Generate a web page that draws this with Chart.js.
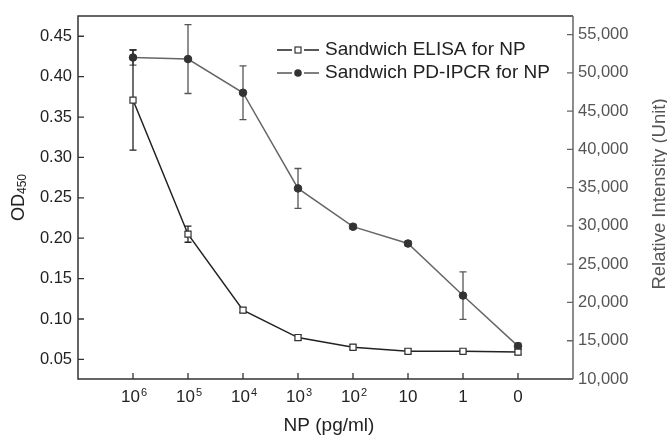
<!DOCTYPE html>
<html>
<head>
<meta charset="utf-8">
<script src="https://cdn.jsdelivr.net/npm/chart.js@4.4.1/dist/chart.umd.min.js"></script>
<style>
  html, body { margin: 0; padding: 0; background: #fff; }
  #wrap { width: 667px; height: 438px; }
</style>
</head>
<body>
<div id="wrap"><canvas id="myChart" width="667" height="438"></canvas></div>
<script>
// Datos del gráfico
var categorias = ['10^6', '10^5', '10^4', '10^3', '10^2', '10', '1', '0'];
var elisaOD = [0.371, 0.205, 0.111, 0.077, 0.065, 0.060, 0.060, 0.059];
var elisaErr = [0.062, 0.010, 0.003, 0.003, 0.003, 0.003, 0.002, 0.003];
var ipcrInt = [52000, 51800, 47400, 34900, 29900, 27700, 20900, 14300];
var ipcrErr = [1000, 4500, 3500, 2600, 300, 300, 3100, 400];
var ticksOD = [0.05, 0.10, 0.15, 0.20, 0.25, 0.30, 0.35, 0.40, 0.45];
var ticksInt = [10000, 15000, 20000, 25000, 30000, 35000, 40000, 45000, 50000, 55000];
var nombres = ['Sandwich ELISA for NP', 'Sandwich PD-IPCR for NP'];

var fuente = 'Liberation Sans, Arial, Helvetica, sans-serif';
Chart.defaults.font.family = fuente;

function puntos(valores) {
  return valores.map(function (v, i) { return { x: i + 1, y: v }; });
}

/* Plugin para barras de error, marco, ticks hacia dentro, etiquetas, títulos y leyenda */
var extras = {
  id: 'extras',
  beforeDatasetsDraw: function (chart) {
    var ctx = chart.ctx;
    var sx = chart.scales.x;
    var series = [
      { vals: ipcrInt, errs: ipcrErr, eje: chart.scales.y2, color: '#555' },
      { vals: elisaOD, errs: elisaErr, eje: chart.scales.y, color: '#222' }
    ];
    ctx.save();
    series.forEach(function (s) {
      ctx.strokeStyle = s.color;
      ctx.lineWidth = 1.3;
      s.vals.forEach(function (v, i) {
        var px = sx.getPixelForValue(i + 1);
        var top = s.eje.getPixelForValue(v + s.errs[i]);
        var bot = s.eje.getPixelForValue(v - s.errs[i]);
        ctx.beginPath();
        ctx.moveTo(px, top); ctx.lineTo(px, bot);
        ctx.moveTo(px - 3.5, top); ctx.lineTo(px + 3.5, top);
        ctx.moveTo(px - 3.5, bot); ctx.lineTo(px + 3.5, bot);
        ctx.stroke();
      });
    });
    ctx.restore();
  },
  afterDraw: function (chart) {
    var ctx = chart.ctx;
    var a = chart.chartArea;
    var sx = chart.scales.x, sy = chart.scales.y, sy2 = chart.scales.y2;
    ctx.save();
    // marco
    ctx.lineWidth = 1.5;
    ctx.strokeStyle = '#333';
    ctx.beginPath();
    ctx.moveTo(a.right, a.top); ctx.lineTo(a.left, a.top);
    ctx.lineTo(a.left, a.bottom); ctx.lineTo(a.right, a.bottom);
    ctx.stroke();
    ctx.strokeStyle = '#666';
    ctx.beginPath();
    ctx.moveTo(a.right, a.top); ctx.lineTo(a.right, a.bottom);
    ctx.stroke();
    // ticks
    ctx.lineWidth = 1.3;
    ctx.strokeStyle = '#333';
    ctx.beginPath();
    sy.ticks.forEach(function (t) {
      var p = sy.getPixelForValue(t.value);
      ctx.moveTo(a.left, p); ctx.lineTo(a.left + 6, p);
    });
    sx.ticks.forEach(function (t) {
      var p = sx.getPixelForValue(t.value);
      ctx.moveTo(p, a.bottom); ctx.lineTo(p, a.bottom - 6);
    });
    ctx.stroke();
    ctx.strokeStyle = '#666';
    ctx.beginPath();
    sy2.ticks.forEach(function (t) {
      var p = sy2.getPixelForValue(t.value);
      ctx.moveTo(a.right, p); ctx.lineTo(a.right - 6, p);
    });
    ctx.stroke();

    // etiquetas del eje x con exponente
    ctx.fillStyle = '#222';
    ctx.textBaseline = 'alphabetic';
    ctx.textAlign = 'left';
    sx.ticks.forEach(function (t) {
      var p = sx.getPixelForValue(t.value);
      var partes = categorias[t.value - 1].split('^');
      ctx.font = '17px ' + fuente;
      var wb = ctx.measureText(partes[0]).width;
      var we = 0;
      if (partes[1]) {
        ctx.font = '11px ' + fuente;
        we = ctx.measureText(partes[1]).width + 1;
      }
      var x0 = p - (wb + we) / 2 + (partes[1] ? 1 : 0);
      ctx.font = '17px ' + fuente;
      ctx.fillText(partes[0], x0, 402);
      if (partes[1]) {
        ctx.font = '11px ' + fuente;
        ctx.fillText(partes[1], x0 + wb + 1, 396);
      }
    });

    // título eje izquierdo: OD con subíndice 450
    ctx.fillStyle = '#222';
    ctx.translate(24, 221);
    ctx.rotate(-Math.PI / 2);
    ctx.textBaseline = 'alphabetic';
    ctx.textAlign = 'left';
    ctx.font = '18px ' + fuente;
    ctx.fillText('OD', 0, 0);
    var w = ctx.measureText('OD').width;
    ctx.font = '12px ' + fuente;
    ctx.fillText('450', w, 2);
    ctx.setTransform(1, 0, 0, 1, 0, 0);

    // título eje derecho
    ctx.fillStyle = '#555';
    ctx.translate(660, 194);
    ctx.rotate(-Math.PI / 2);
    ctx.textAlign = 'center';
    ctx.textBaseline = 'middle';
    ctx.font = '18.5px ' + fuente;
    ctx.fillText('Relative Intensity (Unit)', 0, 0);
    ctx.setTransform(1, 0, 0, 1, 0, 0);

    // título eje x
    ctx.fillStyle = '#222';
    ctx.textAlign = 'center';
    ctx.textBaseline = 'middle';
    ctx.font = '19px ' + fuente;
    ctx.fillText('NP (pg/ml)', 329, 426);

    // leyenda
    var filas = [
      { y: 50, color: '#222', tipo: 'rect' },
      { y: 73, color: '#555', tipo: 'circle' }
    ];
    filas.forEach(function (f, i) {
      ctx.strokeStyle = f.color;
      ctx.lineWidth = 1.5;
      ctx.beginPath();
      ctx.moveTo(277, f.y); ctx.lineTo(292, f.y);
      ctx.moveTo(304, f.y); ctx.lineTo(319, f.y);
      ctx.stroke();
      if (f.tipo === 'rect') {
        ctx.fillStyle = '#fff';
        ctx.strokeStyle = '#333';
        ctx.lineWidth = 1.2;
        ctx.fillRect(295, f.y - 3, 6, 6);
        ctx.strokeRect(295, f.y - 3, 6, 6);
      } else {
        ctx.fillStyle = '#333';
        ctx.beginPath();
        ctx.arc(298, f.y, 3.8, 0, Math.PI * 2);
        ctx.fill();
      }
      ctx.fillStyle = '#222';
      ctx.textAlign = 'left';
      ctx.textBaseline = 'middle';
      ctx.font = '19px ' + fuente;
      ctx.fillText(nombres[i], 325, f.y);
    });
    ctx.restore();
  }
};

var ctx = document.getElementById('myChart').getContext('2d');
new Chart(ctx, {
  type: 'line',
  data: {
    datasets: [
      {
        label: nombres[0],
        data: puntos(elisaOD),
        yAxisID: 'y',
        borderColor: '#222',
        borderWidth: 1.5,
        pointStyle: 'rect',
        pointRadius: 4.3,
        pointBackgroundColor: '#fff',
        pointBorderColor: '#333',
        pointBorderWidth: 1.2,
        tension: 0
      },
      {
        label: nombres[1],
        data: puntos(ipcrInt),
        yAxisID: 'y2',
        borderColor: '#666',
        borderWidth: 1.5,
        pointStyle: 'circle',
        pointRadius: 3.8,
        pointBackgroundColor: '#333',
        pointBorderColor: '#333',
        pointBorderWidth: 1,
        tension: 0
      }
    ]
  },
  options: {
    responsive: false,
    animation: false,
    layout: { padding: { top: 9, left: 0, right: 0, bottom: 0 } },
    plugins: { legend: { display: false }, tooltip: { enabled: false } },
    scales: {
      x: {
        type: 'linear',
        min: 0,
        max: categorias.length + 1,
        grid: { display: false, drawTicks: false },
        border: { display: false },
        afterBuildTicks: function (scale) {
          scale.ticks = categorias.map(function (c, i) { return { value: i + 1 }; });
        },
        afterFit: function (scale) { scale.height = 59; },
        ticks: { display: false }
      },
      y: {
        position: 'left',
        min: 0.0257,
        max: 0.4752,
        grid: { display: false, drawTicks: false },
        border: { display: false },
        afterBuildTicks: function (scale) {
          scale.ticks = ticksOD.map(function (v) { return { value: v }; });
        },
        afterFit: function (scale) { scale.width = 78; },
        ticks: {
          padding: 6,
          color: '#222',
          font: { size: 16.5 },
          callback: function (v) { return v.toFixed(2); }
        }
      },
      y2: {
        position: 'right',
        min: 10000,
        max: 57440,
        grid: { display: false, drawTicks: false },
        border: { display: false },
        afterBuildTicks: function (scale) {
          scale.ticks = ticksInt.map(function (v) { return { value: v }; });
        },
        afterFit: function (scale) { scale.width = 94; },
        ticks: {
          padding: 5,
          color: '#555',
          font: { size: 16.5 },
          callback: function (v) { return v.toLocaleString('en-US'); }
        }
      }
    }
  },
  plugins: [extras]
});
</script>
</body>
</html>
